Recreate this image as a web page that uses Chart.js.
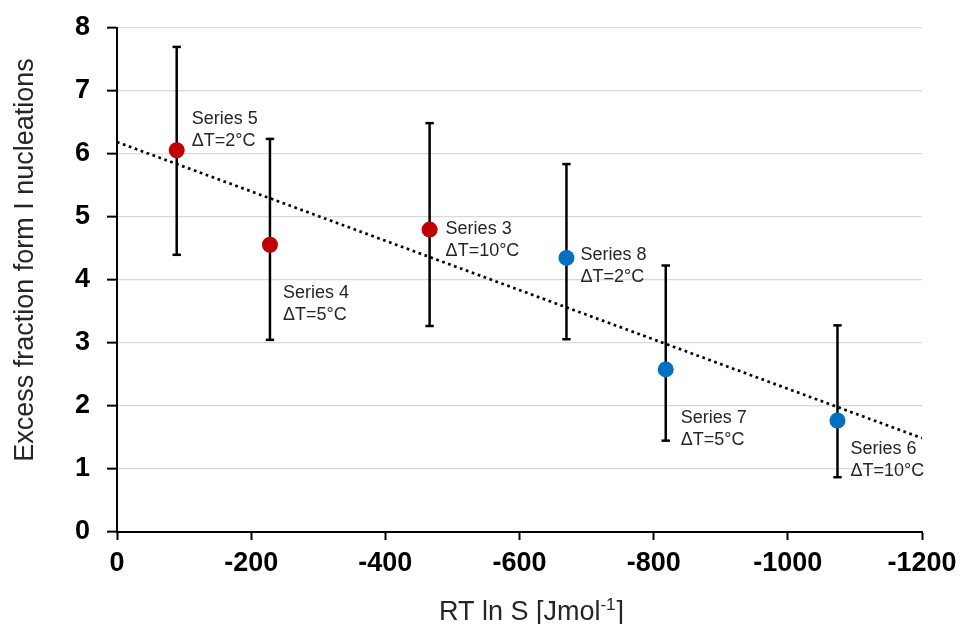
<!DOCTYPE html>
<html>
<head>
<meta charset="utf-8">
<script src="https://cdn.jsdelivr.net/npm/chart.js@4/dist/chart.umd.min.js"></script>
<style>
  html, body { margin: 0; padding: 0; background: #ffffff; }
  #wrap { width: 963px; height: 624px; }
</style>
</head>
<body>
<div id="wrap"><canvas id="c" width="963" height="624"></canvas></div>
<script>
// ---- data ----
const seriesNames = ['Series 5', 'Series 4', 'Series 3', 'Series 8', 'Series 7', 'Series 6'];
const deltaT      = ['ΔT=2°C', 'ΔT=5°C', 'ΔT=10°C', 'ΔT=2°C', 'ΔT=5°C', 'ΔT=10°C'];
const rtLnS       = [-89, -228, -466, -670, -818, -1074];
const excessFrac  = [6.06, 4.56, 4.80, 4.35, 2.58, 1.77];
const errLow      = [4.40, 3.05, 3.27, 3.06, 1.45, 0.87];
const errHigh     = [7.70, 6.24, 6.49, 5.84, 4.23, 3.28];
const seriesGroup = [0, 0, 0, 1, 1, 1];
const trendX      = [0, -1200];
const trendY      = [6.19, 1.49];
const xTickValues = [0, -200, -400, -600, -800, -1000, -1200];
const yTickValues = [0, 1, 2, 3, 4, 5, 6, 7, 8];
const xTitleMain  = 'RT ln S [Jmol';
const xTitleSup   = '-1';
const xTitleEnd   = ']';
const yTitle      = 'Excess fraction form I nucleations';

// ---- styling ----
const groupColors = ['#C00000', '#0070C0'];
const labelOffsets = [ // [dx, dy of first baseline] in px from the point
  [15, -26], [13, 53], [16, 4], [14, 2], [15, 54], [13, 34]
];
const FONT = "'Liberation Sans', Arial, sans-serif";

function groupPoints(g) {
  const out = [];
  for (let i = 0; i < rtLnS.length; i++) if (seriesGroup[i] === g) out.push({x: rtLnS[i], y: excessFrac[i]});
  return out;
}
const errData = [];
for (let i = 0; i < rtLnS.length; i++) {
  errData.push({x: rtLnS[i], y: errLow[i]});
  errData.push({x: rtLnS[i], y: errHigh[i]});
  errData.push({x: rtLnS[i], y: null});
}
const trendData = trendX.map((x, i) => ({x: x, y: trendY[i]}));

const labelPlugin = {
  id: 'pointLabels',
  afterDatasetsDraw(chart) {
    const ctx = chart.ctx;
    const xs = chart.scales.x, ys = chart.scales.y;
    ctx.save();
    ctx.font = '18px ' + FONT;
    ctx.fillStyle = '#262626';
    ctx.textAlign = 'left';
    ctx.textBaseline = 'alphabetic';
    for (let i = 0; i < rtLnS.length; i++) {
      const px = xs.getPixelForValue(rtLnS[i]);
      const py = ys.getPixelForValue(excessFrac[i]);
      const [dx, dy] = labelOffsets[i];
      ctx.fillText(seriesNames[i], px + dx, py + dy);
      ctx.fillText(deltaT[i], px + dx, py + dy + 22);
    }
    ctx.restore();
  }
};

const titlePlugin = {
  id: 'axisTitles',
  afterDraw(chart) {
    const ctx = chart.ctx;
    ctx.save();
    ctx.fillStyle = '#262626';
    // x title with superscript
    const mainFont = '27px ' + FONT;
    const supFont = '17px ' + FONT;
    ctx.font = mainFont;
    const w1 = ctx.measureText(xTitleMain).width;
    const w3 = ctx.measureText(xTitleEnd).width;
    ctx.font = supFont;
    const w2 = ctx.measureText(xTitleSup).width;
    const total = w1 + w2 + w3 + 1;
    const cx = (chart.chartArea.left + chart.chartArea.right) / 2 + 12;
    let x = cx - total / 2;
    const base = 620;
    ctx.textBaseline = 'alphabetic';
    ctx.textAlign = 'left';
    ctx.font = mainFont;
    ctx.fillText(xTitleMain, x, base);
    x += w1;
    ctx.font = supFont;
    ctx.fillText(xTitleSup, x, base - 10);
    x += w2 + 1;
    ctx.font = mainFont;
    ctx.fillText(xTitleEnd, x, base);
    // y title rotated
    ctx.translate(33, 260);
    ctx.rotate(-Math.PI / 2);
    ctx.textAlign = 'center';
    ctx.fillText(yTitle, 0, 0);
    ctx.restore();
  }
};

new Chart(document.getElementById('c'), {
  type: 'scatter',
  data: {
    datasets: [
      { label: 'red', data: groupPoints(0), backgroundColor: groupColors[0], borderColor: groupColors[0],
        pointRadius: 8, pointHoverRadius: 8, pointBorderWidth: 0 },
      { label: 'blue', data: groupPoints(1), backgroundColor: groupColors[1], borderColor: groupColors[1],
        pointRadius: 8, pointHoverRadius: 8, pointBorderWidth: 0 },
      { label: 'trend', type: 'line', data: trendData, borderColor: '#000', borderWidth: 2.7,
        borderDash: [2.7, 3.6], borderCapStyle: 'butt', pointRadius: 0, fill: false, tension: 0 },
      { label: 'err', type: 'line', data: errData, borderColor: '#000', borderWidth: 2.5, spanGaps: false,
        pointStyle: 'line', pointRadius: 4.2, pointBorderWidth: 2.5, pointBorderColor: '#000',
        pointHoverRadius: 4.2, fill: false, tension: 0 }
    ]
  },
  options: {
    responsive: false,
    animation: false,
    devicePixelRatio: 1,
    layout: { padding: { left: 0, right: 41, top: 28, bottom: 0 } },
    plugins: { legend: { display: false }, tooltip: { enabled: false } },
    scales: {
      x: {
        type: 'linear', reverse: true, min: -1200, max: 0,
        afterFit(s) { s.height = 92; s.paddingLeft = 0; s.paddingRight = 0; },
        afterBuildTicks(s) { s.ticks = xTickValues.map(v => ({value: v})); },
        ticks: { color: '#000', font: { family: FONT, size: 27, weight: 'bold' }, padding: 7,
                 maxRotation: 0, callback: v => String(v) },
        grid: { drawOnChartArea: false, drawTicks: true, tickLength: 8, tickColor: '#000', tickWidth: 2 },
        border: { display: true, color: '#000', width: 2 },
        title: { display: false }
      },
      y: {
        type: 'linear', min: 0, max: 8,
        afterFit(s) { s.width = 117; s.paddingTop = 0; s.paddingBottom = 0; },
        afterBuildTicks(s) { s.ticks = yTickValues.map(v => ({value: v})); },
        ticks: { color: '#000', font: { family: FONT, size: 27, weight: 'bold' }, padding: 17,
                 callback: v => String(v) },
        grid: { color: c => (c.tick && c.tick.value === 0) ? 'rgba(0,0,0,0)' : '#d9d9d9',
                lineWidth: 1.3, drawTicks: true, tickLength: 10, tickColor: '#000', tickWidth: 2 },
        border: { display: true, color: '#000', width: 2 },
        title: { display: false }
      }
    }
  },
  plugins: [labelPlugin, titlePlugin]
});
</script>
</body>
</html>
